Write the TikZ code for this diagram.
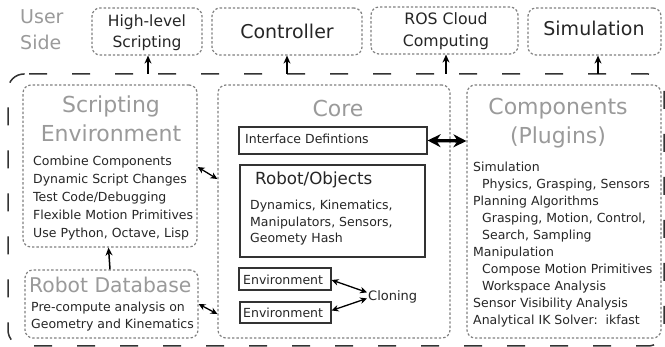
\documentclass[tikz,border=0pt]{standalone}
\usepackage{fontspec}
\setmainfont{DejaVu Sans}
\usetikzlibrary{arrows.meta}
\definecolor{ttl}{HTML}{9A9A9A}
\definecolor{bodytxt}{HTML}{262626}
\definecolor{dotc}{HTML}{808080}
\definecolor{framec}{HTML}{333333}
\begin{document}
\begin{tikzpicture}[x=1pt,y=-1pt,
 dbox/.style={draw=dotc, line width=1.2pt, dash pattern=on 2.4pt off 2pt, rounded corners=8pt, inner sep=0pt},
 sbox/.style={draw=framec, line width=1.2pt, inner sep=0pt},
 ttlt/.style={text=ttl, inner sep=0pt, align=center, font=\fontsize{22}{29}\selectfont},
 body/.style={text=bodytxt, inner sep=0pt, align=left, font=\fontsize{12.5}{17}\selectfont},
 toptxt/.style={text=black!85, inner sep=0pt, align=center},
 arr/.style={-{Stealth[length=8pt,width=7pt]}, line width=1.5pt, black},
 darr/.style={{Stealth[length=7pt,width=6.5pt]}-{Stealth[length=7pt,width=6.5pt]}, line width=1.3pt, black},
 bigarr/.style={{Stealth[length=13pt,width=13pt]}-{Stealth[length=13pt,width=13pt]}, line width=3.3pt, black},
 outer/.style={draw=framec, line width=1.5pt, dash pattern=on 18pt off 25pt, rounded corners=16pt}]
\useasboundingbox (0,0) rectangle (665,347);
\fill[white] (0,0) rectangle (665,347);

% outer frame
\draw[outer] (29,74) -- (664,74) -- (664,346) -- (8,346) -- (8,74) -- (29,74);

% user side
\node[text=ttl, inner sep=0pt, align=left, anchor=base west, font=\fontsize{19}{26}\selectfont] (us) at (20,50) {User\\Side};

% top boxes
\node[dbox, minimum width=110pt, minimum height=47pt] (hl) at (147,31.5) {};
\node[dbox, minimum width=150pt, minimum height=47pt] (ctrl) at (287,31.5) {};
\node[dbox, minimum width=147pt, minimum height=47pt] (ros) at (444.5,30.5) {};
\node[dbox, minimum width=133pt, minimum height=47pt] (sim) at (594.5,31.5) {};
\node[toptxt, anchor=base, font=\fontsize{15.5}{21}\selectfont] (hlt) at (147,48) {High-level\\Scripting};
\node[toptxt, anchor=base, font=\fontsize{19}{24}\selectfont] (ctrlt) at (287,39) {Controller};
\node[toptxt, anchor=base, font=\fontsize{15.7}{21.5}\selectfont] (rost) at (446,46.5) {ROS Cloud\\Computing};
\node[toptxt, anchor=base, font=\fontsize{19}{24}\selectfont] (simt) at (594,36) {Simulation};

% arrows from user line
\coordinate (u1) at (148,74);
\coordinate (u2) at (287,74);
\coordinate (u3) at (446,74);
\coordinate (u4) at (598,74);
\draw[arr] (u1) -- (u1 |- hl.south);
\draw[arr] (u2) -- (u2 |- ctrl.south);
\draw[arr] (u3) -- (u3 |- ros.south);
\draw[arr] (u4) -- (u4 |- sim.south);

% main boxes
\node[dbox, minimum width=174pt, minimum height=162pt] (script) at (110,166) {};
\node[dbox, minimum width=173pt, minimum height=68pt] (rdb) at (111.5,304) {};
\node[dbox, minimum width=232pt, minimum height=253pt] (core) at (334,211.5) {};
\node[dbox, minimum width=194pt, minimum height=253pt] (comp) at (564,211.5) {};

% scripting environment
\node[ttlt, anchor=base] (scriptt) at (111,142) {Scripting\\Environment};
\node[body, anchor=base west, font=\fontsize{12.5}{18}\selectfont] (scriptb) at (33,238) {Combine Components\\Dynamic Script Changes\\Test Code/Debugging\\Flexible Motion Primitives\\Use Python, Octave, Lisp};

% robot database
\node[text=ttl, inner sep=0pt, anchor=base west, font=\fontsize{20.3}{26}\selectfont] (rdbt) at (29,293) {Robot Database};
\node[body, anchor=base west, font=\fontsize{12.5}{16.5}\selectfont] (rdbb) at (31,328.5) {Pre-compute analysis on\\Geometry and Kinematics};

% core
\node[ttlt, anchor=base] (coret) at (338,117) {Core};
\node[sbox, minimum width=188pt, minimum height=27pt] (iface) at (333,140.5) {};
\node[body, anchor=base west] (ifacet) at (245,144) {Interface Defintions};
\node[sbox, minimum width=185pt, minimum height=92pt] (robj) at (332.5,211) {};
\node[text=bodytxt, inner sep=0pt, anchor=base west, font=\fontsize{16.7}{20}\selectfont] (robjt) at (255,185) {Robot/Objects};
\node[body, anchor=base west, font=\fontsize{12.5}{16.5}\selectfont] (robjb) at (250,243) {Dynamics, Kinematics,\\Manipulators, Sensors,\\Geomety Hash};
\node[sbox, minimum width=92pt, minimum height=22pt] (env1) at (285,279) {};
\node[sbox, minimum width=91pt, minimum height=21pt] (env2) at (285.5,312.5) {};
\node[body, anchor=base west] (env1t) at (243,285) {Environment};
\node[body, anchor=base west] (env2t) at (243,318) {Environment};
\node[body, anchor=base west, font=\fontsize{13}{16}\selectfont] (clon) at (368,301) {Cloning};

% components
\node[ttlt, anchor=base] (compt) at (558,144) {Components\\(Plugins)};
\node[body, anchor=base west] (compb) at (473,325) {Simulation\\
\hspace*{9pt}Physics, Grasping, Sensors\\
Planning Algorithms\\
\hspace*{9pt}Grasping, Motion, Control,\\
\hspace*{9pt}Search, Sampling\\
Manipulation\\
\hspace*{9pt}Compose Motion Primitives\\
\hspace*{9pt}Workspace Analysis\\
Sensor Visibility Analysis\\
Analytical IK Solver:\ \ ikfast};

% connectors
\draw[arr] ([xshift=-1.5pt]rdb.north) -- ([xshift=-1.5pt]script.south);
\draw[darr] ([yshift=-1pt]script.east) -- ([yshift=32.5pt]core.west);
\draw[darr] (rdb.east) -- ([yshift=-102.5pt]core.west);
\draw[bigarr] (iface.east) -- ([yshift=70.5pt]comp.west);
\draw[darr] ([yshift=-1pt]env1.east) -- ([xshift=-1pt,yshift=5pt]clon.west);
\draw[darr] ([yshift=2pt]env2.east) -- ([xshift=-1pt,yshift=-1pt]clon.west);
\end{tikzpicture}
\end{document}
